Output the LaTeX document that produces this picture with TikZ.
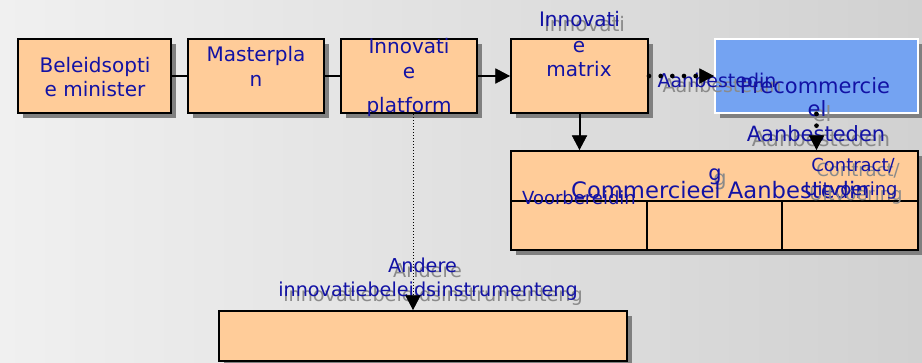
\documentclass[tikz,border=0pt]{standalone}
\usepackage{fontspec}
\setmainfont{DejaVu Sans}
\usepackage{tikz}
\usetikzlibrary{arrows.meta,shadows}

\definecolor{bgleft}{RGB}{240,240,240}
\definecolor{bgright}{RGB}{209,209,209}
\definecolor{peach}{RGB}{255,204,153}
\definecolor{pcpblue}{RGB}{116,163,242}
\definecolor{boxshadow}{RGB}{128,128,128}
\definecolor{txtblue}{RGB}{18,18,165}
\definecolor{echogray}{RGB}{138,138,138}

\tikzset{
  box/.style={draw=black, line width=1.5pt, fill=peach, inner sep=0pt,
    drop shadow={shadow xshift=3.75pt, shadow yshift=-3.75pt, fill=boxshadow, opacity=1}},
  topbox/.style={box, minimum height=55.5pt},
  txt/.style={text=txtblue, anchor=base, inner sep=0pt, font=\fontsize{15}{18}\selectfont},
  echo/.style={txt, text=echogray, xshift=3.75pt, yshift=-3.75pt},
  link/.style={line width=1.5pt},
  tip/.style={-{Triangle[length=11pt,width=11.5pt,line width=0.5pt]}},
  dots/.style={line width=3.5pt, line cap=round, dash pattern=on 0pt off 8.75pt},
  fine dots/.style={line width=0.75pt, dash pattern=on 0.75pt off 1.5pt},
}

\begin{document}
\begin{tikzpicture}[x=0.75pt, y=-0.75pt]
        \useasboundingbox (0,0) rectangle (922,362);
        \shade[left color=bgleft, right color=bgright] (0,0) rectangle (922,362);

        % boxes
        \node[topbox, minimum width=114.75pt] (bel) at (94.5,76) {};
        \node[topbox, minimum width=102pt] (mas) at (256,76) {};
        \node[topbox, minimum width=102pt] (inn) at (409,76) {};
        \node[topbox, minimum width=102.75pt] (mat) at (579.5,76) {};
        \node[topbox, minimum width=152.25pt, fill=pcpblue, draw=white] (pcp) at (816.5,76) {};
        \node[box, minimum width=305.25pt, minimum height=74.25pt] (cab) at (714.5,200.5) {};
        \node[box, minimum width=306pt, minimum height=37.5pt] (andere) at (423,336) {};
        \draw[link] (511,201) -- (918,201);
        \draw[link] (647,201) -- (647,250);
        \draw[link] (782,201) -- (782,250);

        % texts
        \node[txt] (bel1) at (95,72.7) {Beleidsopti};
        \node[txt] (bel2) at (95,96.7) {e minister};
        \node[txt] (mas1) at (256,61.7) {Masterpla};
        \node[txt] (mas2) at (256,86) {n};
        \node[txt] (inn1) at (409,53) {Innovati};
        \node[txt] (inn2) at (409,78) {e};
        \node[txt] (inn3) at (409,112) {platform};
        \node[echo] (mat1-sh) at (579.5,26.7) {Innovati};
        \node[txt] (mat1) at (579.5,26.7) {Innovati};
        \node[txt] (mat2) at (579,52.3) {e};
        \node[txt] (mat3) at (579,76.7) {matrix};

        \node[echo, font=\fontsize{14.25}{17}\selectfont] (aanb-sh) at (717,87.3) {Aanbestedin};
        \node[txt, font=\fontsize{14.25}{17}\selectfont] (aanb) at (717,87.3) {Aanbestedin};
        \node[txt, font=\fontsize{15.75}{19}\selectfont] (pcp1) at (815,93.3) {Precommercie};
        \node[echo, font=\fontsize{15.75}{19}\selectfont] (pcp2-sh) at (817,116) {el};
        \node[txt, font=\fontsize{15.75}{19}\selectfont] (pcp2) at (817,116) {el};
        \node[echo, font=\fontsize{15.75}{19}\selectfont] (pcp3-sh) at (816,141.7) {Aanbesteden};
        \node[txt, font=\fontsize{15.75}{19}\selectfont] (pcp3) at (816,141.7) {Aanbesteden};

        \node[echo, font=\fontsize{15.75}{19}\selectfont] (cab0-sh) at (715,180) {g};
        \node[txt, font=\fontsize{15.75}{19}\selectfont] (cab0) at (715,180) {g};
        \node[txt, font=\fontsize{17}{20}\selectfont] (cab1) at (720.5,198.3) {Commercieel Aanbestedin};
        \node[echo, font=\fontsize{13.5}{16}\selectfont] (con1-sh) at (853,171.7) {Contract/};
        \node[txt, font=\fontsize{13.5}{16}\selectfont] (con1) at (853,171.7) {Contract/};
        \node[echo, font=\fontsize{13.5}{16}\selectfont] (con2-sh) at (851,195) {Uitvoering};
        \node[txt, font=\fontsize{13.5}{16}\selectfont] (con2) at (851,195) {Uitvoering};
        \node[txt, font=\fontsize{13.5}{16}\selectfont] (voor) at (579,204) {Voorbereidin};

        \node[echo, font=\fontsize{14.4}{17}\selectfont] (and1-sh) at (422.5,272.3) {Andere};
        \node[txt, font=\fontsize{14.4}{17}\selectfont] (and1) at (422.5,272.3) {Andere};
        \node[echo, font=\fontsize{14.4}{17}\selectfont] (and2-sh) at (428,296.7) {innovatiebeleidsinstrumenteng};
        \node[txt, font=\fontsize{14.4}{17}\selectfont] (and2) at (428,296.7) {innovatiebeleidsinstrumenteng};

        % connectors
        \draw[link] (bel) -- (mas);
        \draw[link] (mas) -- (inn);
        \draw[link, tip] (inn) -- (mat);
        \draw[dots, tip] (mat) -- (pcp);
        \draw[link, tip] (mat) -- (mat |- cab.north);
        \draw[dots, tip] (pcp) -- (pcp |- cab.north);
        \coordinate (drop) at ([xshift=3pt]inn.south);
        \draw[fine dots, tip] (drop) -- (drop |- andere.north);
\end{tikzpicture}
\end{document}
